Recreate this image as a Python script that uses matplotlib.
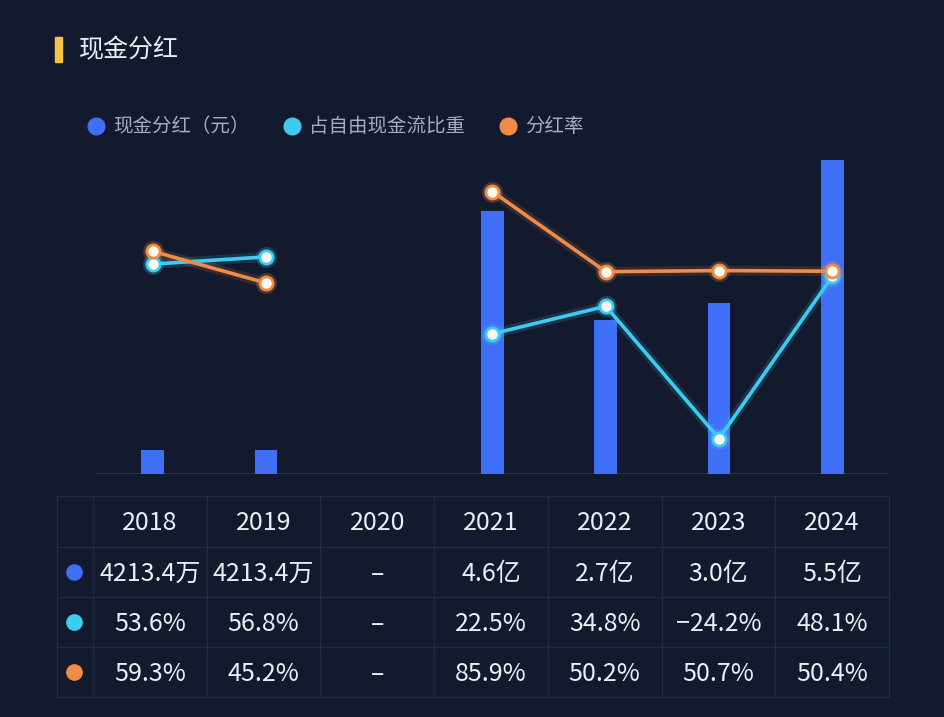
import numpy as np
import matplotlib
matplotlib.use("Agg")
import matplotlib.pyplot as plt
from matplotlib.lines import Line2D

plt.rcParams['font.family'] = ['Noto Sans CJK SC', 'DejaVu Sans']

# ---------------- data ----------------
years = ['2018', '2019', '2020', '2021', '2022', '2023', '2024']
dividend_yi = [0.42134, 0.42134, np.nan, 4.6, 2.7, 3.0, 5.5]      # 亿元
fcf_share = [53.6, 56.8, np.nan, 22.5, 34.8, -24.2, 48.1]         # %
payout_ratio = [59.3, 45.2, np.nan, 85.9, 50.2, 50.7, 50.4]       # %

series_names = ['现金分红（元）', '占自由现金流比重', '分红率']
dividend_labels = ['4213.4万', '4213.4万', '–', '4.6亿', '2.7亿', '3.0亿', '5.5亿']
fcf_labels = ['53.6%', '56.8%', '–', '22.5%', '34.8%', '−24.2%', '48.1%']
payout_labels = ['59.3%', '45.2%', '–', '85.9%', '50.2%', '50.7%', '50.4%']
title = '现金分红'

# ---------------- style ----------------
BG = '#131a2d'
BLUE = '#3f6ef7'
CYAN = '#3ecbf2'
ORANGE = '#ef8c48'
TXT = '#eceef4'
LEG_TXT = '#a7adbf'
GRID = '#212b48'

W, H = 945, 717
fig = plt.figure(figsize=(W / 100, H / 100), dpi=100, facecolor=BG)

def px_axes(x0, y0, x1, y1):
    return fig.add_axes([x0 / W, 1 - y1 / H, (x1 - x0) / W, (y1 - y0) / H])

# ---------------- main chart ----------------
ax = px_axes(96, 160, 889, 474)
ax.set_facecolor('none')
x = np.arange(len(years))
ax.bar(x, dividend_yi, width=0.2, color=BLUE, zorder=2)
ax.set_xlim(-0.5, len(years) - 0.5)
ax.set_ylim(0, 5.5)
ax.axhline(0, color='#2a3452', lw=1.2, zorder=1)
for s in ax.spines.values():
    s.set_visible(False)
ax.set_xticks([])
ax.set_yticks([])

ax2 = ax.twinx()
ax2.set_ylim(-40, 100)
ax2.set_xlim(-0.5, len(years) - 0.5)
for s in ax2.spines.values():
    s.set_visible(False)
ax2.set_yticks([])

for vals, col in [(fcf_share, CYAN), (payout_ratio, ORANGE)]:
    ax2.plot(x, vals, color=col, lw=7, alpha=0.15, solid_capstyle='round', zorder=3)
    ax2.plot(x, vals, color=col, lw=2.6, solid_capstyle='round', zorder=4)
    ax2.plot(x, vals, linestyle='none', marker='o', ms=15, color=col, alpha=0.25, mew=0, zorder=5)
    ax2.plot(x, vals, linestyle='none', marker='o', ms=9.5, mfc='#fffaf0', mec=col, mew=2, zorder=6)

# ---------------- title ----------------
fig.patches.append(plt.Rectangle((55 / W, 1 - 62 / H), 7 / W, 25 / H,
                                 transform=fig.transFigure, color='#f6c343', zorder=5))
fig.text(79 / W, 1 - 50 / H, title, color=TXT, fontsize=18, fontweight='medium', va='center', ha='left')

# ---------------- legend ----------------
handles = [Line2D([], [], linestyle='none', marker='o', ms=12, mfc=c, mec=c)
           for c in (BLUE, CYAN, ORANGE)]
leg = fig.legend(handles, series_names, loc='center left',
                 bbox_to_anchor=(87 / W, 1 - 127 / H), ncol=3, frameon=False,
                 fontsize=14, handlelength=0.9, handletextpad=0.45, columnspacing=1.72,
                 borderaxespad=0, borderpad=0)
for t in leg.get_texts():
    t.set_color(LEG_TXT)

# ---------------- table ----------------
tab = px_axes(0, 0, W, H)
tab.set_xlim(0, W)
tab.set_ylim(H, 0)
tab.axis('off')
tab.set_facecolor('none')

col_edges = [57, 93] + [93 + 113.7 * (i + 1) for i in range(len(years))]
row_edges = [496, 547, 597, 647, 697]
for xe in col_edges:
    tab.plot([xe, xe], [row_edges[0], row_edges[-1]], color=GRID, lw=1)
for ye in row_edges:
    tab.plot([col_edges[0], col_edges[-1]], [ye, ye], color=GRID, lw=1)

rows = [years, dividend_labels, fcf_labels, payout_labels]
dot_colors = [None, BLUE, CYAN, ORANGE]
for r, (labels, dc) in enumerate(zip(rows, dot_colors)):
    yc = (row_edges[r] + row_edges[r + 1]) / 2
    if dc:
        tab.plot([(col_edges[0] + col_edges[1]) / 2 - 1], [yc], marker='o', ms=11, color=dc)
    for c, lab in enumerate(labels):
        xc = (col_edges[c + 1] + col_edges[c + 2]) / 2
        tab.text(xc, yc + 2, lab, color=TXT, fontsize=18, ha='center', va='center')

fig.savefig('out.png', dpi=100, facecolor=BG)
